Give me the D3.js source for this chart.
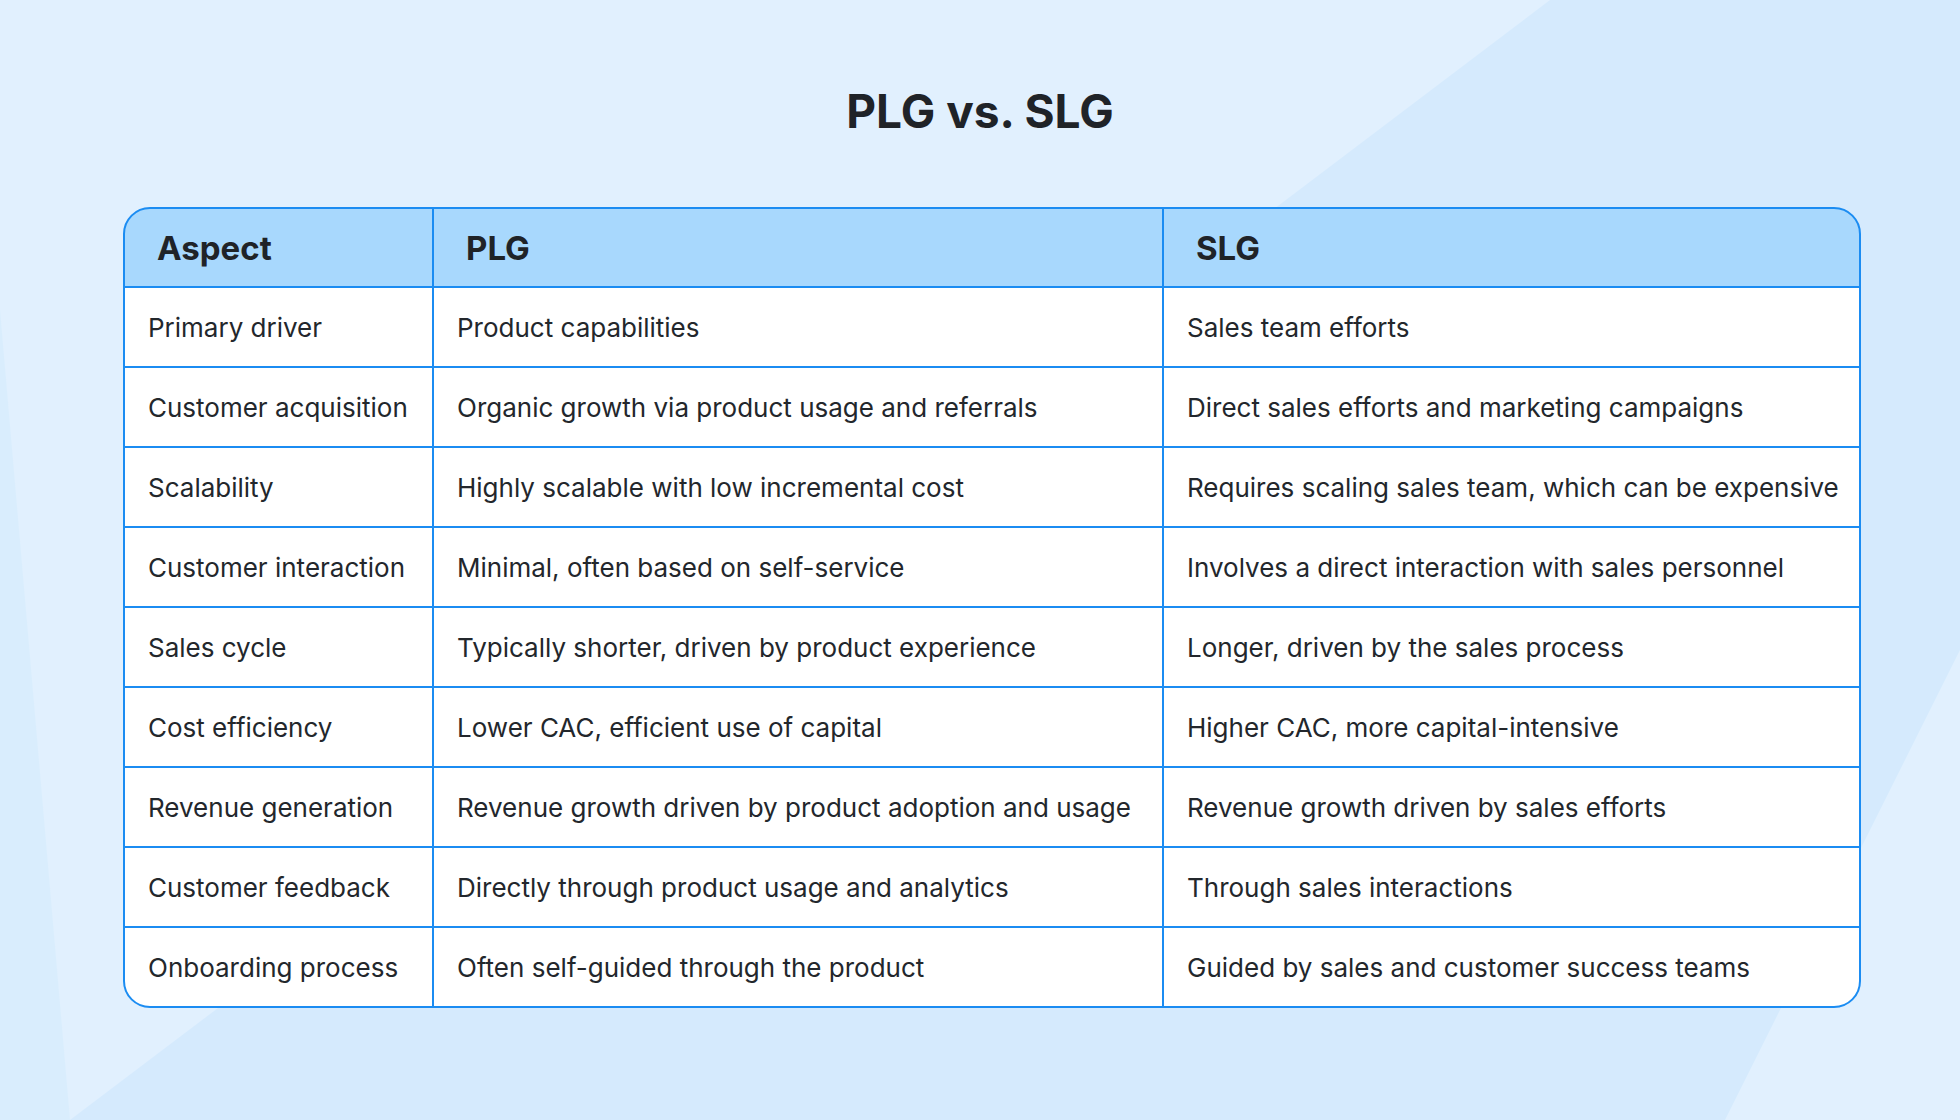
<!DOCTYPE html>
<html><head><meta charset="utf-8">
<script src="https://cdn.jsdelivr.net/npm/d3@7"></script>
<style>body{margin:0;overflow:hidden}</style>
</head><body>
<script>
var columns = ["Aspect", "PLG", "SLG"];
var aspects = ["Primary driver", "Customer acquisition", "Scalability", "Customer interaction", "Sales cycle", "Cost efficiency", "Revenue generation", "Customer feedback", "Onboarding process"];
var plg = ["Product capabilities", "Organic growth via product usage and referrals", "Highly scalable with low incremental cost", "Minimal, often based on self-service", "Typically shorter, driven by product experience", "Lower CAC, efficient use of capital", "Revenue growth driven by product adoption and usage", "Directly through product usage and analytics", "Often self-guided through the product"];
var slg = ["Sales team efforts", "Direct sales efforts and marketing campaigns", "Requires scaling sales team, which can be expensive", "Involves a direct interaction with sales personnel", "Longer, driven by the sales process", "Higher CAC, more capital-intensive", "Revenue growth driven by sales efforts", "Through sales interactions", "Guided by sales and customer success teams"];

var W = 1960, H = 1120;
var svg = d3.select("body").append("svg").attr("width", W).attr("height", H)
  .style("font-family", "Inter, sans-serif");

var defs = svg.append("defs");
svg.append("rect").attr("width", W).attr("height", H).attr("fill", "#e1f0fe");
svg.append("path").attr("d", "M1550,0 L1960,0 L1960,650 L1725,1120 L70,1120 Z").attr("fill", "#d5eafd");
svg.append("path").attr("d", "M0,310 L70,1120 L0,1120 Z").attr("fill", "#d9edfd");

svg.append("text").attr("x", W / 2).attr("y", 128).attr("text-anchor", "middle")
  .attr("font-size", 46).attr("font-weight", 700).attr("fill", "#1f2328").text("PLG vs. SLG");

var tLeft = 124, tRight = 1860, tTop = 208, headH = 79, rowH = 80;
var rows = aspects.map(function(a, i) { return [a, plg[i], slg[i]]; });
var tBottom = tTop + headH + rowH * rows.length;

var x = d3.scaleOrdinal().domain(columns).range([tLeft, 433, 1163]);
var y = d3.scaleBand().domain(d3.range(rows.length)).range([tTop + headH, tBottom]);

defs.append("clipPath").attr("id", "clip").append("rect")
  .attr("x", tLeft).attr("y", tTop).attr("width", tRight - tLeft).attr("height", tBottom - tTop).attr("rx", 26);

var t = svg.append("g").attr("clip-path", "url(#clip)");
t.append("rect").attr("x", tLeft).attr("y", tTop).attr("width", tRight - tLeft).attr("height", tBottom - tTop).attr("fill", "#fff");
t.append("rect").attr("x", tLeft).attr("y", tTop).attr("width", tRight - tLeft).attr("height", headH).attr("fill", "#a8d8fd");

t.selectAll(".hl").data(d3.range(rows.length)).enter().append("line")
  .attr("x1", tLeft).attr("x2", tRight).attr("y1", function(d) { return y(d); }).attr("y2", function(d) { return y(d); })
  .attr("stroke", "#1b8cf2").attr("stroke-width", 2);
t.selectAll(".vl").data(columns.slice(1)).enter().append("line")
  .attr("x1", function(d) { return x(d); }).attr("x2", function(d) { return x(d); })
  .attr("y1", tTop).attr("y2", tBottom).attr("stroke", "#1b8cf2").attr("stroke-width", 2);

svg.append("rect").attr("x", tLeft).attr("y", tTop).attr("width", tRight - tLeft).attr("height", tBottom - tTop).attr("rx", 26)
  .attr("fill", "none").attr("stroke", "#1b8cf2").attr("stroke-width", 2);

svg.selectAll(".ht").data(columns).enter().append("text")
  .attr("x", function(d) { return x(d) + 33; }).attr("y", tTop + headH / 2 + 12)
  .attr("font-size", 33).attr("font-weight", 700).attr("fill", "#1f2328").text(function(d) { return d; });

rows.forEach(function(r, i) {
  svg.selectAll(".r" + i).data(r).enter().append("text")
    .attr("x", function(d, j) { return x(columns[j]) + 24; })
    .attr("y", y(i) + rowH / 2 + 10)
    .attr("font-size", 26).attr("fill", "#23272c").text(function(d) { return d; });
});
</script>
</body></html>
